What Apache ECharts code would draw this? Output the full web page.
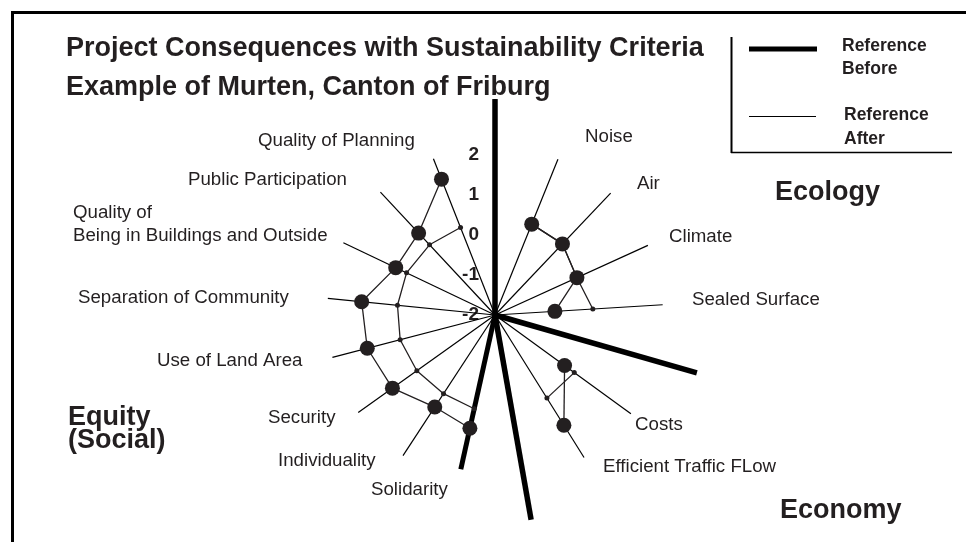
<!DOCTYPE html>
<html>
<head>
<meta charset="utf-8">
<script src="https://cdn.jsdelivr.net/npm/echarts@6/dist/echarts.min.js"></script>
<style>
  html, body { margin: 0; padding: 0; background: #fff; }
  #chart { width: 966px; height: 542px; }
</style>
</head>
<body>
<div id="chart"></div>
<script>
// spoke angles are in degrees, counter-clockwise from east; scores run -2 (centre) .. 2
const equityNames = ['Quality of Planning', 'Public Participation', 'Quality of Being in Buildings and Outside',
  'Separation of Community', 'Use of Land Area', 'Security', 'Individuality', 'Solidarity'];
const equityAngles = [111.5, 133, 154.5, 174.3, 194.6, 215.5, 236.8, 257.5];
const equityBefore = [1.65, 0.8, 0.75, 1.35, 1.3, 1.15, 0.75, 0.9];
const equityAfter = [0.35, 0.4, 0.45, 0.45, 0.45, 0.4, 0.35, 0.4];

const ecologyNames = ['Noise', 'Air', 'Climate', 'Sealed Surface'];
const ecologyAngles = [68, 46.5, 24.5, 3.5];
const ecologyBefore = [0.45, 0.45, 0.25, -0.5];
const ecologyAfter = [0.45, 0.45, 0.25, 0.45];

const economyNames = ['Costs', 'Efficient Traffic FLow'];
const economyAngles = [324, 302];
const economyBefore = [0.15, 1.25];
const economyAfter = [0.45, 0.45];

// thick sector borders
const dividerAngles = [90, 344, 280];
const dividerLengths = [3.4, 3.25, 3.2];

const spokeLength = 2.2;
const solidarityLength = 1.95;

const INK = '#231f20';
const FONT = '"Liberation Sans", Arial, sans-serif';

// angle axis starts at north and runs counter-clockwise
const toAxis = m => ((m - 90) % 360 + 360) % 360;

const chart = echarts.init(document.getElementById('chart'), null, { renderer: 'canvas' });

const series = [];

function addSpoke(angle, length, width) {
  series.push({
    type: 'line',
    coordinateSystem: 'polar',
    data: [[-2, toAxis(angle)], [length, toAxis(angle)]],
    symbol: 'none',
    silent: true,
    z: 1,
    lineStyle: { color: '#000', width: width }
  });
}

[equityAngles, ecologyAngles, economyAngles].forEach(angles => {
  angles.forEach((a, i) => {
    if (angles === equityAngles && i === equityAngles.length - 1) {
      addSpoke(a, solidarityLength, 5);
    } else {
      addSpoke(a, spokeLength, 1.2);
    }
  });
});

dividerAngles.forEach((a, i) => addSpoke(a, dividerLengths[i], 5.5));

function addProfile(name, angles, values, size, z) {
  series.push({
    name: name,
    type: 'line',
    coordinateSystem: 'polar',
    data: values.map((v, i) => [v, toAxis(angles[i])]),
    symbol: 'circle',
    symbolSize: size,
    showSymbol: true,
    silent: true,
    z: z,
    itemStyle: { color: INK },
    lineStyle: { color: INK, width: 1.3 }
  });
}

addProfile('Reference After', equityAngles, equityAfter, 5, 2);
addProfile('Reference After', ecologyAngles, ecologyAfter, 5, 2);
addProfile('Reference After', economyAngles, economyAfter, 5, 2);
addProfile('Reference Before', equityAngles, equityBefore, 15, 3);
addProfile('Reference Before', ecologyAngles, ecologyBefore, 15, 3);
addProfile('Reference Before', economyAngles, economyBefore, 15, 3);

function txt(text, x, y, size, bold, align) {
  return {
    type: 'text',
    x: x,
    y: y,
    silent: true,
    z: 10,
    style: {
      text: text,
      fill: INK,
      font: (bold ? 'bold ' : '') + size + 'px ' + FONT,
      align: align || 'left',
      textAlign: align || 'left',
      verticalAlign: 'middle',
      textVerticalAlign: 'middle'
    }
  };
}

function seg(x1, y1, x2, y2, w) {
  return {
    type: 'line',
    silent: true,
    z: 10,
    shape: { x1: x1, y1: y1, x2: x2, y2: y2 },
    style: { stroke: '#000', lineWidth: w }
  };
}

const LBL = 18.7;

const option = {
  animation: false,
  backgroundColor: '#fff',
  polar: { center: [495, 315], radius: 216 },
  angleAxis: {
    type: 'value', min: 0, max: 360, startAngle: 90, clockwise: false,
    show: false, splitLine: { show: false }
  },
  radiusAxis: {
    type: 'value', min: -2, max: 3.4, interval: 1,
    axisLine: { show: false },
    axisTick: { show: false },
    splitLine: { show: false },
    axisLabel: {
      show: true,
      margin: 16,
      color: INK,
      fontFamily: FONT,
      fontWeight: 'bold',
      fontSize: 19,
      formatter: v => (v <= 2 ? String(v) : '')
    }
  },
  series: series,
  graphic: [
    // frame
    seg(12, 12.5, 966, 12.5, 3),
    seg(12.5, 11, 12.5, 542, 3),
    // titles
    txt('Project Consequences with Sustainability Criteria', 66, 49, 27, true),
    txt('Example of Murten, Canton of Friburg', 66, 88, 27, true),
    // legend box
    seg(731.5, 37, 731.5, 153, 2),
    seg(731, 152.5, 952, 152.5, 1.6),
    seg(749, 49, 817, 49, 5),
    seg(749, 116.5, 816, 116.5, 1),
    txt('Reference', 842, 46, 17.5, true),
    txt('Before', 842, 69, 17.5, true),
    txt('Reference', 844, 115, 17.5, true),
    txt('After', 844, 139, 17.5, true),
    // sector names
    txt('Ecology', 775, 193, 27, true),
    txt('Economy', 780, 511, 27, true),
    txt('Equity', 68, 418, 27, true),
    txt('(Social)', 68, 441, 27, true),
    // criteria labels
    txt(equityNames[0], 258, 141, LBL),
    txt(equityNames[1], 188, 180, LBL),
    txt('Quality of', 73, 213, LBL),
    txt('Being in Buildings and Outside', 73, 236, LBL),
    txt(equityNames[3], 78, 298, LBL),
    txt(equityNames[4], 157, 361, LBL),
    txt(equityNames[5], 268, 418, LBL),
    txt(equityNames[6], 278, 461, LBL),
    txt(equityNames[7], 371, 490, LBL),
    txt(ecologyNames[0], 585, 137, LBL),
    txt(ecologyNames[1], 637, 184, LBL),
    txt(ecologyNames[2], 669, 237, LBL),
    txt(ecologyNames[3], 692, 300, LBL),
    txt(economyNames[0], 635, 425, LBL),
    txt(economyNames[1], 603, 467, LBL)
  ]
};

chart.setOption(option);
</script>
</body>
</html>
